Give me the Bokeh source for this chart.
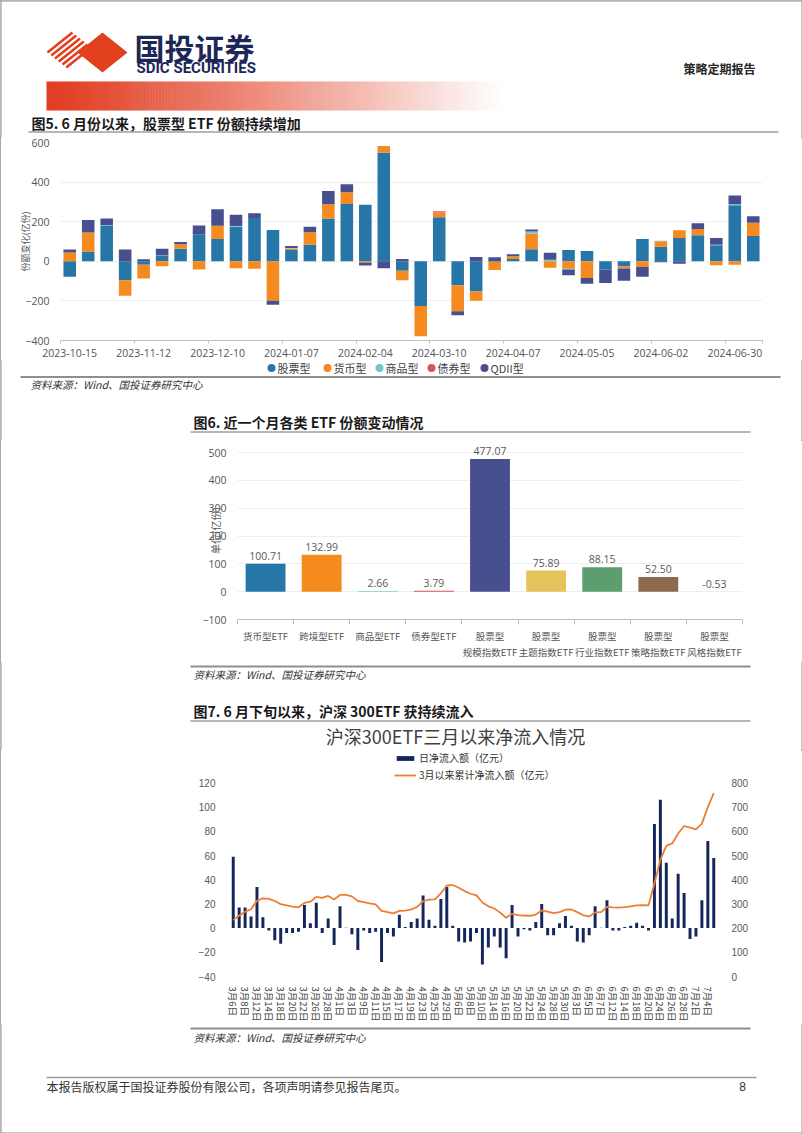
import math
from bokeh.plotting import figure
from bokeh.models import (Range1d, LinearAxis, FixedTicker, Legend, LegendItem,
                          ColumnDataSource, LabelSet)
from bokeh.layouts import column
from bokeh.core.properties import value
from bokeh.embed import file_html
from bokeh.resources import INLINE

CJK = "Noto Sans CJK SC"
LAT = "Open Sans"

# ---------------- data: chart 1 (weekly ETF share change, 亿份) ----------------
week_labels = ["2023-10-15", "2023-10-22", "2023-10-29", "2023-11-05", "2023-11-12", "2023-11-19",
               "2023-11-26", "2023-12-03", "2023-12-10", "2023-12-17", "2023-12-24", "2023-12-31",
               "2024-01-07", "2024-01-14", "2024-01-21", "2024-01-28", "2024-02-04", "2024-02-18",
               "2024-02-25", "2024-03-03", "2024-03-10", "2024-03-17", "2024-03-24", "2024-03-31",
               "2024-04-07", "2024-04-14", "2024-04-21", "2024-04-28", "2024-05-05", "2024-05-12",
               "2024-05-19", "2024-05-26", "2024-06-02", "2024-06-09", "2024-06-16", "2024-06-23",
               "2024-06-30", "2024-07-07"]
stock_etf = [-78, 50, 179, -96, -18, 29, 64, 136, 113, 175, 219, 158, 57, 83, 216, 290, 285, 548,
             -48, -226, 222, -121, -152, -2, 12, 61, 0, 57, 52, -42, -26, 113, 74, 118, 131, 81, 283, 128]
money_etf = [44, 96, 0, -78, -69, -25, 22, -42, 66, -35, -37, -199, 8, 64, 72, 59, -6, 34,
             -48, -152, 25, -131, -47, -42, 14, 78, -32, -37, -84, 0, -10, -29, 27, 39, 32, -20, -17, 67]
commodity_etf = [0, 0, 3, 0, 0, 2, 0, 0, 0, 3, 0, 0, 2, 0, 0, 0, 0, 0,
                 0, 0, 0, 0, 0, 0, 0, 12, 8, -5, 0, 0, 0, 0, 3, 0, 0, 3, 5, 0]
bond_etf = [0, 0, 0, 0, 0, 0, 0, 0, 0, 0, 0, 0, 0, 0, 0, 0, 0, 0,
            0, 0, 6, 0, 0, 0, 0, 0, 0, 0, 0, 0, 0, 0, 0, 0, 0, 0, 0, 0]
qdii_etf = [15, 62, 34, 59, 10, 32, 12, 45, 84, 57, 24, -20, 10, 27, 67, 40, -15, -35,
            12, 0, 0, -20, 22, 20, 10, 10, 35, -29, -29, -67, -62, -49, -5, -13, 29, 34, 44, 32]
series_names = ["股票型", "货币型", "商品型", "债券型", "QDII型"]

# ---------------- data: chart 2 (near one month share change) ----------------
etf_categories = ["货币型ETF", "跨境型ETF", "商品型ETF", "债券型ETF", "股票型\n规模指数ETF",
                  "股票型\n主题指数ETF", "股票型\n行业指数ETF", "股票型\n策略指数ETF", "股票型\n风格指数ETF"]
etf_change = [100.71, 132.99, 2.66, 3.79, 477.07, 75.89, 88.15, 52.50, -0.53]

# ---------------- data: chart 3 (CSI300 ETF flows since March) ----------------
daily_inflow = [59, 17, 17, 9.5, 34, 9, -2, -10, -13, -4, -4, -3, 19, 4, 21, -4, 8, -14,
                18, 0.3, -5, -18, -2, -4, -3, -28, -4, -7, 11, 1, 5, 8, 27, 7, 2, 24, 34, 2,
                -11, -12, -11, -4, -30, -16, -7, -16, -25, 19, -7, -1, -2, 5, 20, -6, -6, 4, 10, 2,
                -11, -12, -6, 18, 0.3, 23, -2, -2, 1, 2, 4.5, 2, -2, 86, 106, 54, 8, 45, 29,
                -9, -7, 23, 72, 58]
cumulative_inflow = [233, 252, 268, 278, 313, 323, 321, 312, 299, 294, 289, 286, 304, 309, 329, 325,
                     333, 318, 337, 337, 331, 312, 307, 302, 298, 271, 266, 261, 271, 272, 277, 288,
                     311, 318, 319, 344, 376, 378, 367, 353, 342, 335, 306, 290, 281, 264, 243, 259,
                     254, 252, 251, 256, 273, 268, 262, 266, 276, 277, 266, 253, 248, 265, 266, 288,
                     286, 285, 287, 290, 294, 295, 294, 385, 482, 540, 550, 591, 622, 615, 608, 632,
                     700, 758]
date_labels = ["3月6日", "3月8日", "3月12日", "3月14日", "3月18日", "3月20日", "3月22日", "3月26日",
               "3月28日", "4月1日", "4月3日", "4月9日", "4月11日", "4月15日", "4月17日", "4月19日",
               "4月23日", "4月25日", "4月29日", "5月6日", "5月8日", "5月10日", "5月14日", "5月16日",
               "5月20日", "5月22日", "5月24日", "5月28日", "5月30日", "6月3日", "6月5日", "6月7日",
               "6月12日", "6月14日", "6月18日", "6月20日", "6月24日", "6月26日", "6月28日", "7月2日",
               "7月4日"]

W = 802
BORDER = "#8c8c8c"


def strip(h):
    f = figure(width=W, height=h, x_range=Range1d(0, W), y_range=Range1d(h, 0),
               toolbar_location=None, output_backend="svg", min_border=0,
               x_axis_location=None, y_axis_location=None, frame_align=False)
    f.xgrid.visible = False
    f.ygrid.visible = False
    f.outline_line_color = None
    f.segment(x0=[0.5, W - 0.5], y0=[0, 0], x1=[0.5, W - 0.5], y1=[h, h], line_color=BORDER, line_width=1)
    return f


def txt(f, x, y, s, size, font=CJK, color="#1a1a1a", style="normal", align="left", baseline="middle"):
    f.text(x=[x], y=[y], text=[s], text_font=value(font), text_font_size=f"{size}px",
           text_color=color, text_font_style=style, text_align=align, text_baseline=baseline)


def hline(f, x0, x1, y, color="#7f7f7f", width=1):
    f.segment(x0=[x0], y0=[y], x1=[x1], y1=[y], line_color=color, line_width=width)


# ================= strip 1: header =================
s1 = strip(137)
s1.segment(x0=[0], y0=[0.5], x1=[W], y1=[0.5], line_color=BORDER, line_width=1)
for k in range(6):
    t = k * 0.15
    s1.segment(x0=[47 + 25 * t], y0=[52 + 20 * t], x1=[72 + 25 * t], y1=[32 + 20 * t],
               line_color="#e2401f", line_width=2.6)
s1.patch(x=[77, 102, 127, 102], y=[52, 32, 52, 72], fill_color="#e2401f", line_color=None)
txt(s1, 134, 46, "国投证券", 30, color="#1c2757", style="bold")
txt(s1, 136, 67, "SDIC SECURITIES", 15, font="Roboto", color="#1c2757", style="bold")
txt(s1, 755, 68, "策略定期报告", 12, color="#262626", style="bold", align="right")
n_g = 150
gl, gr, gc = [], [], []
for i in range(n_g):
    t = i / n_g
    a = min(1.0, t ** 1.15)
    r = int(226 + (255 - 226) * a)
    g = int(62 + (255 - 62) * a)
    b = int(36 + (255 - 36) * a)
    gl.append(46 + 453 * i / n_g)
    gr.append(46 + 453 * (i + 1) / n_g + 0.5)
    gc.append(f"#{r:02x}{g:02x}{b:02x}")
s1.quad(left=gl, right=gr, top=[81] * n_g, bottom=[110] * n_g, fill_color=gc, line_color=None)
txt(s1, 31, 122, "图5. 6 月份以来，股票型 ETF 份额持续增加", 14, style="bold")
hline(s1, 28, 778, 131.5, color="#6f6f6f")

# ================= chart 1 =================
n1 = len(week_labels)
p1 = figure(width=W, height=223, x_range=Range1d(-0.5, n1 - 0.5), y_range=Range1d(-400, 600),
            toolbar_location=None, output_backend="svg", frame_align=False,
            min_border_left=60, min_border_right=40, min_border_top=5, min_border_bottom=20)
p1.outline_line_color = None
colors1 = ["#2677a8", "#f58a1f", "#72c8c9", "#d9555b", "#474f8f"]
xs1 = list(range(n1))
pos = [0.0] * n1
neg = [0.0] * n1
for vals, col in zip([stock_etf, money_etf, commodity_etf, bond_etf, qdii_etf], colors1):
    bot, top = [], []
    for i, v in enumerate(vals):
        if v >= 0:
            bot.append(pos[i]); pos[i] += v; top.append(pos[i])
        else:
            bot.append(neg[i]); neg[i] += v; top.append(neg[i])
    p1.vbar(x=xs1, bottom=bot, top=top, width=0.68, fill_color=col, line_color=None)

p1.yaxis.ticker = FixedTicker(ticks=[-400, -200, 0, 200, 400, 600])
p1.yaxis.axis_line_color = None
p1.yaxis.major_tick_line_color = None
p1.yaxis.minor_tick_line_color = None
p1.yaxis.major_label_text_font = LAT
p1.yaxis.major_label_text_font_size = "10.5px"
p1.yaxis.major_label_text_color = "#555555"
p1.yaxis.major_label_standoff = 5
p1.yaxis.axis_label = "份额变化(亿份)"
p1.yaxis.axis_label_text_font = CJK
p1.yaxis.axis_label_text_font_size = "9px"
p1.yaxis.axis_label_text_font_style = "normal"
p1.yaxis.axis_label_text_color = "#555555"
p1.yaxis.axis_label_standoff = -10
p1.ygrid.grid_line_color = "#eeeeee"
p1.xgrid.visible = False
lab_ticks1 = list(range(0, n1, 4))
p1.xaxis.ticker = FixedTicker(ticks=lab_ticks1, minor_ticks=[i - 0.5 for i in range(0, n1, 4)] + [n1 - 0.5])
p1.xaxis.major_label_overrides = {i: week_labels[i] for i in lab_ticks1}
p1.xaxis.major_tick_line_color = None
p1.xaxis.minor_tick_line_color = "#bfbfbf"
p1.xaxis.minor_tick_in = 0
p1.xaxis.minor_tick_out = 3
p1.xaxis.axis_line_color = "#bfbfbf"
p1.xaxis.major_label_text_font = LAT
p1.xaxis.major_label_text_font_size = "10.5px"
p1.xaxis.major_label_text_color = "#555555"
p1.xaxis.major_label_standoff = 2

# ================= strip 2 (legend of chart 1, source, title of chart 2) =================
s2 = strip(80)
leg_x = [271, 327, 379, 431, 484]
s2.scatter(x=leg_x, y=[7.5] * 5, marker="circle", size=8, fill_color=colors1, line_color=None)
for lx, name in zip(leg_x, series_names):
    txt(s2, lx + 6, 7.5, name, 11, color="#404040")
hline(s2, 20, 780, 16.5, color="#8f8f8f", width=2)
txt(s2, 30, 24, "资料来源：Wind、国投证券研究中心", 10.5, color="#333333", style="italic")
txt(s2, 193, 61, "图6. 近一个月各类 ETF 份额变动情况", 14, style="bold")
hline(s2, 190, 750, 71.5, color="#6f6f6f")

# ================= chart 2 =================
n2 = len(etf_categories)
p2 = figure(width=W, height=222, x_range=Range1d(-0.5, n2 - 0.5), y_range=Range1d(-100, 540),
            toolbar_location=None, output_backend="svg", frame_align=False,
            min_border_left=237, min_border_right=60, min_border_top=1, min_border_bottom=33)
p2.outline_line_color = None
colors2 = ["#2677a8", "#f58a1f", "#7fd0d1", "#d9555b", "#474f8f", "#e6c35a", "#5d9e6f", "#8c6a4d", "#c8c8c8"]
src2 = ColumnDataSource(dict(
    x=list(range(n2)), top=etf_change, color=colors2,
    ly=[max(v, 0) for v in etf_change], txt=[f"{v:.2f}" for v in etf_change]))
p2.vbar(x="x", top="top", bottom=0, width=0.71, fill_color="color", line_color=None, source=src2)
p2.add_layout(LabelSet(x="x", y="ly", text="txt", source=src2, y_offset=4,
                       text_align="center", text_baseline="bottom",
                       text_font=value(LAT), text_font_size="10.5px", text_color="#595959"))
p2.yaxis.ticker = FixedTicker(ticks=[-100, 0, 100, 200, 300, 400, 500])
p2.yaxis.axis_line_color = None
p2.yaxis.major_tick_line_color = None
p2.yaxis.minor_tick_line_color = None
p2.yaxis.major_label_text_font = LAT
p2.yaxis.major_label_text_font_size = "10.5px"
p2.yaxis.major_label_text_color = "#555555"
p2.yaxis.major_label_standoff = 5
p2.yaxis.axis_label = "单位(亿份)"
p2.yaxis.axis_label_text_font = CJK
p2.yaxis.axis_label_text_font_size = "10px"
p2.yaxis.axis_label_text_font_style = "normal"
p2.yaxis.axis_label_text_color = "#555555"
p2.yaxis.axis_label_standoff = -24
p2.ygrid.grid_line_color = "#eeeeee"
p2.xgrid.visible = False
p2.xaxis.ticker = FixedTicker(ticks=list(range(n2)), minor_ticks=[i - 0.5 for i in range(n2 + 1)])
p2.xaxis.major_label_overrides = {i: etf_categories[i] for i in range(n2)}
p2.xaxis.major_tick_line_color = None
p2.xaxis.minor_tick_line_color = "#bfbfbf"
p2.xaxis.minor_tick_in = 0
p2.xaxis.minor_tick_out = 5
p2.xaxis.axis_line_color = "#bfbfbf"
p2.xaxis.major_label_text_font = CJK
p2.xaxis.major_label_text_font_size = "9.5px"
p2.xaxis.major_label_text_color = "#555555"
p2.xaxis.major_label_standoff = 3

# ================= strip 3 =================
s3 = strip(88)
hline(s3, 190, 750, 4, color="#8f8f8f", width=2)
txt(s3, 193, 12, "资料来源：Wind、国投证券研究中心", 10.5, color="#333333", style="italic")
txt(s3, 193, 48, "图7. 6 月下旬以来，沪深 300ETF 获持续流入", 14, style="bold")
hline(s3, 190, 750, 58.5, color="#6f6f6f")
txt(s3, 455, 73, "沪深300ETF三月以来净流入情况", 18, color="#404040", align="center")

# ================= chart 3 =================
n3 = len(daily_inflow)
PX_TOP = 33.0                     # headroom (px) above the 120 / 800 level for the legend
left_span = 160.0
frame_h3 = 197.0
extra_left = PX_TOP * left_span / frame_h3
extra_right = PX_TOP * 800.0 / frame_h3
p3 = figure(width=W, height=274, x_range=Range1d(-0.8, n3 - 0.2),
            y_range=Range1d(-40, 120 + extra_left),
            toolbar_location=None, output_backend="svg", frame_align=False,
            min_border_left=228, min_border_right=84, min_border_top=0, min_border_bottom=44)
p3.outline_line_color = None
p3.extra_y_ranges = {"cum": Range1d(0, 800 + extra_right)}
xs3 = list(range(n3))
rb = p3.vbar(x=xs3, top=daily_inflow, bottom=0, width=0.5, fill_color="#14275c", line_color=None)
rl = p3.line(x=xs3, y=cumulative_inflow, y_range_name="cum", line_color="#ed7d31", line_width=1.8)
raxis = LinearAxis(y_range_name="cum", ticker=FixedTicker(ticks=list(range(0, 801, 100))))
p3.add_layout(raxis, "right")
for ax in [p3.yaxis[0], raxis]:
    ax.axis_line_color = None
    ax.major_tick_line_color = None
    ax.minor_tick_line_color = None
    ax.major_label_text_font = "Liberation Sans"
    ax.major_label_text_font_size = "10px"
    ax.major_label_text_color = "#595959"
    ax.major_label_standoff = 7
p3.yaxis[0].ticker = FixedTicker(ticks=list(range(-40, 121, 20)))
p3.xgrid.visible = False
p3.ygrid.visible = False
lab_ticks3 = list(range(0, 2 * len(date_labels), 2))
p3.xaxis.ticker = FixedTicker(ticks=lab_ticks3)
p3.xaxis.major_label_overrides = {t: lbl for t, lbl in zip(lab_ticks3, date_labels)}
p3.xaxis.major_label_orientation = -math.pi / 2
p3.xaxis.axis_line_color = None
p3.xaxis.major_tick_line_color = None
p3.xaxis.minor_tick_line_color = None
p3.xaxis.major_label_text_font = CJK
p3.xaxis.major_label_text_font_size = "9.5px"
p3.xaxis.major_label_text_color = "#404040"
p3.xaxis.major_label_standoff = 4
leg3 = Legend(items=[LegendItem(label="日净流入额（亿元）", renderers=[rb]),
                     LegendItem(label="3月以来累计净流入额（亿元）", renderers=[rl])],
              orientation="vertical", location=(166, 194),
              border_line_color=None, background_fill_alpha=0, margin=0, padding=2,
              glyph_width=22, glyph_height=6, label_height=15, spacing=2, label_standoff=3,
              label_text_font=CJK, label_text_font_size="10px", label_text_color="#333333")
p3.add_layout(leg3)

# ================= strip 4: footer =================
s4 = strip(109)
hline(s4, 190, 750, 4, color="#8f8f8f", width=2)
txt(s4, 193, 13, "资料来源：Wind、国投证券研究中心", 10.5, color="#333333", style="italic")
hline(s4, 46, 756, 53, color="#9a9a9a", width=1.5)
txt(s4, 46, 62, "本报告版权属于国投证券股份有限公司，各项声明请参见报告尾页。", 12, color="#333333")
txt(s4, 742, 62, "8", 12, font="Liberation Sans", color="#333333", align="center")
s4.segment(x0=[0], y0=[108.5], x1=[W], y1=[108.5], line_color=BORDER, line_width=1)

page = column(s1, p1, s2, p2, s3, p3, s4, spacing=0,
              styles={"outline": f"1px solid {BORDER}", "outline-offset": "-1px"})

with open("out.html", "w") as fh:
    fh.write(file_html(page, INLINE))
